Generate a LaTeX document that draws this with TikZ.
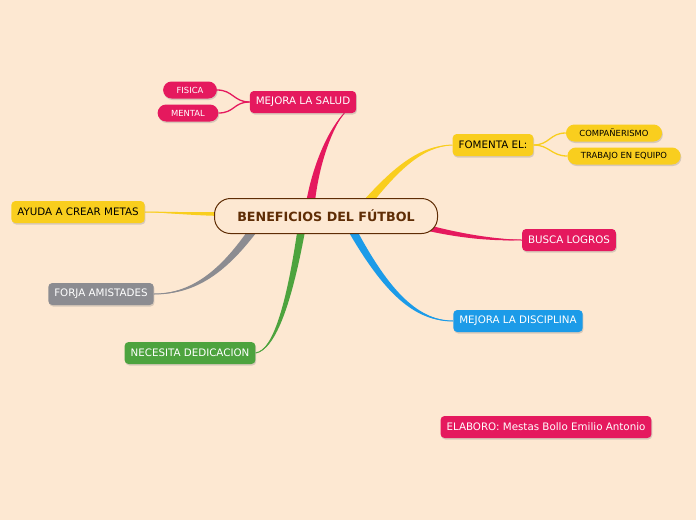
\documentclass[tikz,border=0pt]{standalone}
\usepackage{fontspec}
\setmainfont{DejaVu Sans}
\usetikzlibrary{calc, shadows, backgrounds}
\definecolor{bgpeach}{RGB}{253,232,210}
\definecolor{mindpink}{RGB}{229,25,94}
\definecolor{mindyellow}{RGB}{249,206,30}
\definecolor{mindgray}{RGB}{140,140,145}
\definecolor{mindgreen}{RGB}{77,163,62}
\definecolor{mindblue}{RGB}{28,155,232}
\definecolor{rootbrown}{RGB}{95,45,5}

% tapered branch: colour, start, control 1, control 2, end, half width offset
\newcommand{\taper}[6]{%
  \fill[#1] ($(#2)+(#6)$) .. controls ($(#3)+0.66*(#6)$) and ($(#4)+0.33*(#6)$) .. (#5)
    .. controls ($(#4)-0.33*(#6)$) and ($(#3)-0.66*(#6)$) .. ($(#2)-(#6)$) -- cycle;
  \draw[#1, line width=1pt] (#2) .. controls (#3) and (#4) .. (#5);}

\begin{document}
\begin{tikzpicture}[
    x=1pt, y=-1pt,
    root/.style={draw=rootbrown, line width=1pt, rounded corners=16pt, fill=bgpeach, minimum width=223pt, minimum height=35pt, text=rootbrown, font=\fontsize{12.7}{14}\selectfont\bfseries},
    topic/.style={rounded corners=4pt, minimum height=22pt, inner xsep=6pt, text=white, font=\fontsize{10.3}{12}\selectfont, drop shadow={opacity=0.3, shadow xshift=0.8pt, shadow yshift=-1.5pt}},
    sub/.style={rounded corners=8.5pt, minimum height=17pt, inner xsep=13.5pt, text=white, font=\fontsize{8.4}{10}\selectfont, drop shadow={opacity=0.3, shadow xshift=0.8pt, shadow yshift=-1.5pt}},
    twig/.style={line width=1.3pt}
]

\useasboundingbox (0,0) rectangle (696,520);

% Centre
\node[root] (root) at (326,216) {BENEFICIOS DEL FÚTBOL};

% Main topics
\node[topic, fill=mindpink] (salud) at (303,102) {MEJORA LA SALUD};
\node[topic, fill=mindyellow, text=black] (fomenta) at (493,145) {FOMENTA EL:};
\node[topic, fill=mindyellow, text=black] (metas) at (78,212) {AYUDA A CREAR METAS};
\node[topic, fill=mindpink] (logros) at (569,240) {BUSCA LOGROS};
\node[topic, fill=mindgray] (amistades) at (101,294) {FORJA AMISTADES};
\node[topic, fill=mindblue] (disciplina) at (518,321) {MEJORA LA DISCIPLINA};
\node[topic, fill=mindgreen] (dedicacion) at (190,353) {NECESITA DEDICACION};

% Sub topics
\node[sub, fill=mindpink] (fisica) at (190,90) {FISICA};
\node[sub, fill=mindpink] (mental) at (188,113) {MENTAL};
\node[sub, fill=mindyellow, text=black] (companerismo) at (614,133) {COMPAÑERISMO};
\node[sub, fill=mindyellow, text=black] (equipo) at (624,156) {TRABAJO EN EQUIPO};

% Author
\node[topic, fill=mindpink] (autor) at (546,427) {ELABORO: Mestas Bollo Emilio Antonio};

% Background and branches
\begin{scope}[on background layer]
\fill[bgpeach] (0,0) rectangle (696,520);
\taper{mindpink}{$(root.north)+(-16,8)$}{316,160}{333,125}{$(salud.south east)+(-12,0)$}{4.5,0}
\taper{mindyellow}{$(root.north)+(40,6)$}{395,170}{420,146}{fomenta.west}{3,3}
\taper{mindyellow}{$(root.west)+(8,-2)$}{190,214}{165,212}{metas.east}{0,2}
\taper{mindpink}{$(root.east)+(-10,12)$}{470,238}{500,240}{logros.west}{0,3}
\taper{mindgray}{$(root.south west)+(42,-8)$}{225,270}{195,294}{amistades.east}{3,3}
\taper{mindgreen}{$(root.south)+(-24,-8)$}{290,300}{275,350}{dedicacion.east}{4,0}
\taper{mindblue}{$(root.south)+(24,-8)$}{385,290}{415,321}{disciplina.west}{3,-3}
\end{scope}

% Twigs
\draw[twig, mindpink] (salud.west) .. controls +(-16,0) and +(16,0) .. (fisica.east);
\draw[twig, mindpink] (salud.west) .. controls +(-16,0) and +(16,0) .. (mental.east);
\draw[twig, mindyellow] (fomenta.east) .. controls +(16,0) and +(-16,0) .. (companerismo.west);
\draw[twig, mindyellow] (fomenta.east) .. controls +(16,0) and +(-16,0) .. (equipo.west);

\end{tikzpicture}
\end{document}
